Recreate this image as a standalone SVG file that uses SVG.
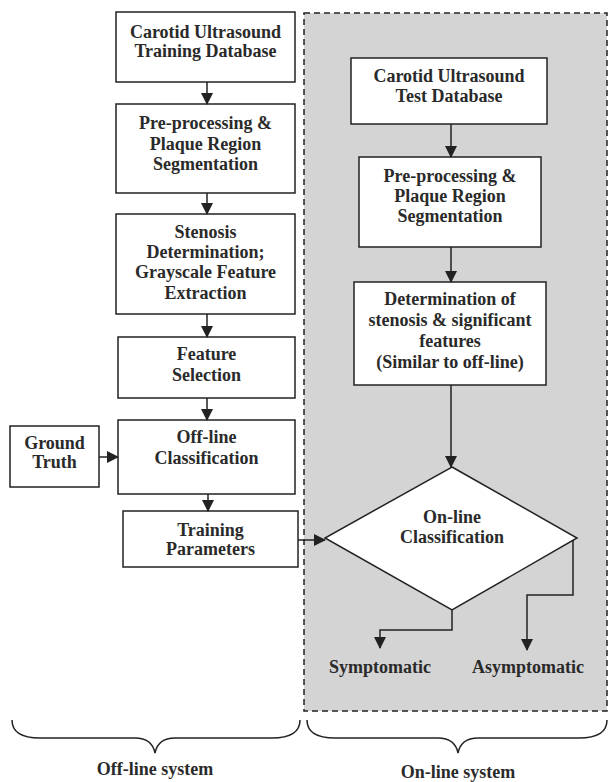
<svg xmlns="http://www.w3.org/2000/svg" width="609" height="782" viewBox="0 0 609 782">
<defs>
<marker id="ah" markerWidth="12" markerHeight="12" refX="11" refY="6" orient="auto" markerUnits="userSpaceOnUse">
<path d="M0,0 L12,6 L0,12 Z" fill="#222"/>
</marker>
<style>
.box{fill:#fff;stroke:#222;stroke-width:1.5}
text{font-family:'Liberation Serif','Times New Roman','DejaVu Serif',serif;font-weight:bold;font-size:18px;fill:#2a2a2a;text-anchor:middle}
.c{fill:none;stroke:#222;stroke-width:1.5}
.a{fill:none;stroke:#222;stroke-width:1.5;marker-end:url(#ah)}
</style>
</defs>
<rect width="609" height="782" fill="#fff"/>
<g id="online-region">
<rect x="304" y="13" width="303" height="698" fill="#d4d4d4" stroke="#222" stroke-width="1.5" stroke-dasharray="6,4"/>
</g>
<g id="train-db"><rect class="box" x="116" y="12" width="179" height="70"/>
<text x="205.5" y="38">Carotid Ultrasound</text><text x="205.5" y="57">Training Database</text></g>
<g id="preproc-off"><rect class="box" x="116" y="104" width="179" height="89"/>
<text x="205.5" y="129">Pre-processing &amp;</text><text x="205.5" y="150">Plaque Region</text><text x="205.5" y="170">Segmentation</text></g>
<g id="stenosis-off"><rect class="box" x="116" y="214" width="179" height="100"/>
<text x="205.5" y="238">Stenosis</text><text x="205.5" y="258">Determination;</text><text x="205.5" y="278">Grayscale Feature</text><text x="205.5" y="299">Extraction</text></g>
<g id="feature-sel"><rect class="box" x="118" y="337" width="177" height="61"/>
<text x="206.5" y="360">Feature</text><text x="206.5" y="381">Selection</text></g>
<g id="offline-class"><rect class="box" x="118" y="420" width="177" height="74"/>
<text x="206.5" y="443">Off-line</text><text x="206.5" y="464">Classification</text></g>
<g id="ground-truth"><rect class="box" x="10" y="426" width="89" height="61"/>
<text x="54.5" y="449">Ground</text><text x="54.5" y="468">Truth</text></g>
<g id="training-params"><rect class="box" x="123" y="511" width="175" height="56"/>
<text x="210.5" y="536">Training</text><text x="210.5" y="555">Parameters</text></g>
<g id="test-db"><rect class="box" x="351" y="58" width="196" height="66"/>
<text x="449" y="82">Carotid Ultrasound</text><text x="449" y="102">Test Database</text></g>
<g id="preproc-on"><rect class="box" x="359" y="157" width="182" height="90"/>
<text x="450" y="182">Pre-processing &amp;</text><text x="450" y="202">Plaque Region</text><text x="450" y="222">Segmentation</text></g>
<g id="stenosis-on"><rect class="box" x="354" y="282" width="192" height="103"/>
<text x="450" y="305">Determination of</text><text x="450" y="326">stenosis &amp; significant</text><text x="450" y="347">features</text><text x="450" y="368">(Similar to off-line)</text></g>
<g id="online-class"><polygon points="452,467 577,538 452,610 325,538" fill="#fff" stroke="#222" stroke-width="1.5"/>
<text x="452" y="523">On-line</text><text x="452" y="543">Classification</text></g>
<g id="symptomatic"><text x="380" y="673">Symptomatic</text></g>
<g id="asymptomatic"><text x="528" y="673">Asymptomatic</text></g>
<g id="braces">
<path class="c" d="M12,720 Q12,738 40,738 L135,738 Q152,738 155,753 Q158,738 175,738 L272,738 Q300,738 300,720"/>
<path class="c" d="M307,720 Q307,738 335,738 L438,738 Q455,738 458,753 Q461,738 478,738 L579,738 Q607,738 607,720"/>
<text x="155" y="775">Off-line system</text>
<text x="458" y="778">On-line system</text>
</g>
<g id="connectors">
<path class="a" d="M207,82 V104"/>
<path class="a" d="M207,193 V214"/>
<path class="a" d="M207,314 V337"/>
<path class="a" d="M207,398 V420"/>
<path class="a" d="M208,494 V511"/>
<path class="a" d="M99,457 H118"/>
<path class="a" d="M298,540 H325"/>
<path class="a" d="M451,124 V157"/>
<path class="a" d="M451,247 V282"/>
<path class="a" d="M451,385 V467"/>
<path class="a" d="M452,610 V630 H380 V648"/>
<path class="a" d="M573,540 V595 H527 V650"/>
</g>
</svg>
